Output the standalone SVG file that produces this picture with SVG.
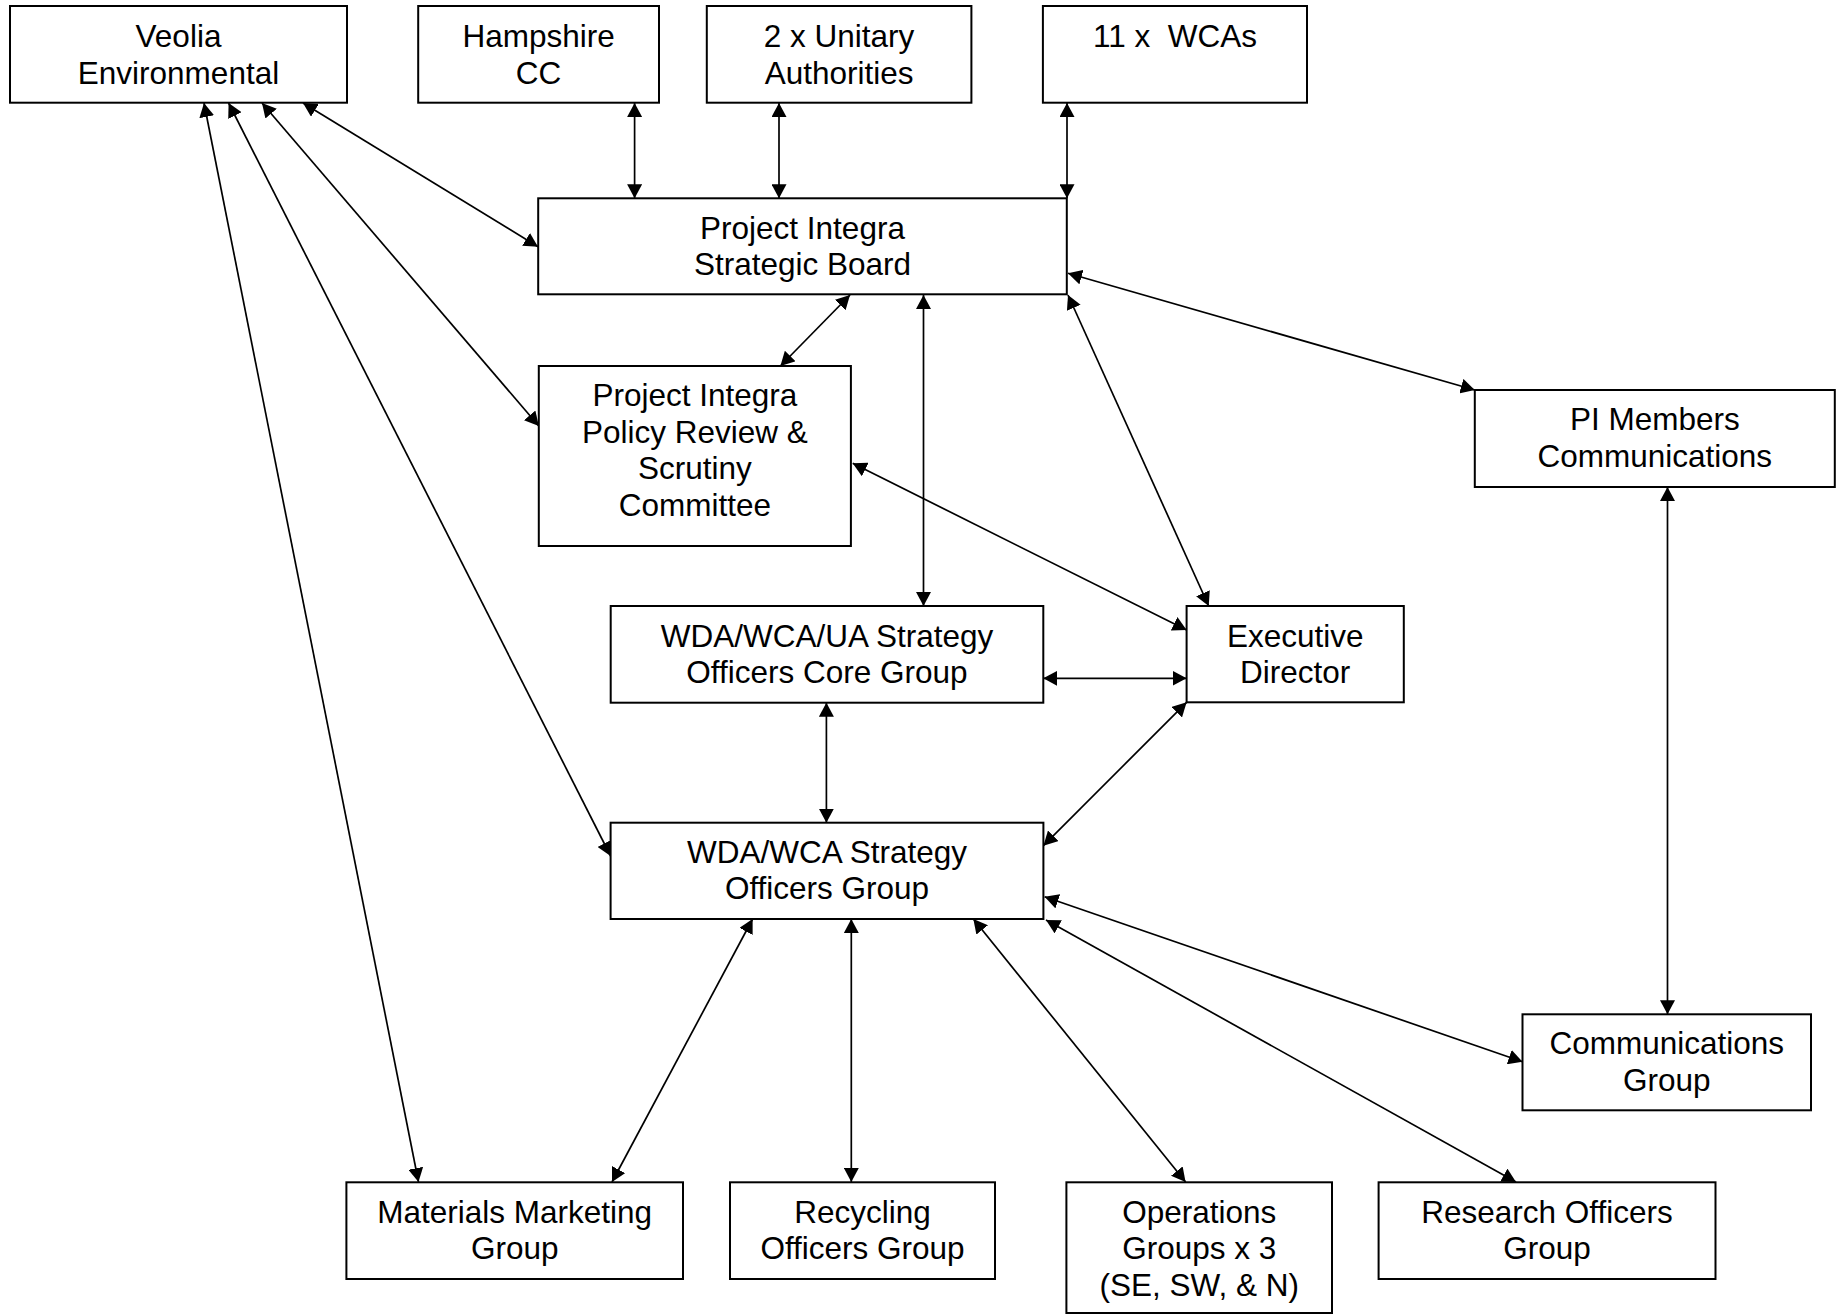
<svg xmlns="http://www.w3.org/2000/svg" width="1842" height="1314" viewBox="0 0 1842 1314">
<style>
.box{fill:#fff;stroke:#000;stroke-width:2}
.lbl{font-family:"Liberation Sans",Arial,sans-serif;font-size:31.5px;fill:#000;text-anchor:middle;white-space:pre}
.con line{stroke:#000;stroke-width:1.7;marker-start:url(#ah);marker-end:url(#ah)}
</style>
<defs>
<marker id="ah" viewBox="0 0 14 15" refX="14" refY="7.5" markerWidth="14" markerHeight="15" markerUnits="userSpaceOnUse" orient="auto-start-reverse">
<path d="M0,0 L14,7.5 L0,15 z" fill="#000"/>
</marker>
</defs>
<rect width="1842" height="1314" fill="#fff"/>
<g id="connectors" class="con">
<line x1="634.6" y1="103" x2="634.6" y2="198.3"/>
<line x1="779" y1="103" x2="779" y2="198.3"/>
<line x1="1067" y1="103" x2="1067" y2="198.3"/>
<line x1="303" y1="103" x2="538" y2="246.7"/>
<line x1="262" y1="103" x2="538.8" y2="426"/>
<line x1="228.6" y1="103" x2="610.6" y2="856"/>
<line x1="204" y1="103" x2="418.5" y2="1182"/>
<line x1="850" y1="295" x2="780.4" y2="366"/>
<line x1="923.5" y1="295" x2="923.5" y2="606"/>
<line x1="1068" y1="295" x2="1208.7" y2="606"/>
<line x1="1068" y1="273.3" x2="1474.8" y2="390"/>
<line x1="852.7" y1="463.3" x2="1186.6" y2="630"/>
<line x1="1043.3" y1="678.3" x2="1186.6" y2="678.3"/>
<line x1="826.4" y1="702.7" x2="826.4" y2="822.7"/>
<line x1="1186.6" y1="702.3" x2="1043.4" y2="845.7"/>
<line x1="1667.5" y1="487" x2="1667.5" y2="1014.3"/>
<line x1="1044.6" y1="896.7" x2="1522.5" y2="1061.7"/>
<line x1="1046" y1="920" x2="1516" y2="1182"/>
<line x1="973.4" y1="919" x2="1185.6" y2="1182"/>
<line x1="851.3" y1="919" x2="851.3" y2="1182"/>
<line x1="752.6" y1="919" x2="612" y2="1182"/>
</g>
<g id="veolia"><rect class="box" x="10" y="6" width="337" height="96.7"/><text class="lbl" x="178.5" y="47">Veolia</text><text class="lbl" x="178.5" y="83.5">Environmental</text></g>
<g id="hampshire"><rect class="box" x="418.2" y="6" width="240.8" height="96.7"/><text class="lbl" x="538.6" y="47">Hampshire</text><text class="lbl" x="538.6" y="83.5">CC</text></g>
<g id="unitary"><rect class="box" x="706.8" y="6" width="264.6" height="96.7"/><text class="lbl" x="839.1" y="47">2 x Unitary</text><text class="lbl" x="839.1" y="83.5">Authorities</text></g>
<g id="wcas"><rect class="box" x="1042.9" y="6" width="264.1" height="96.7"/><text class="lbl" x="1175" y="47">11 x  WCAs</text></g>
<g id="board"><rect class="box" x="538.2" y="198.3" width="528.6" height="96"/><text class="lbl" x="802.5" y="238.5">Project Integra</text><text class="lbl" x="802.5" y="275">Strategic Board</text></g>
<g id="policy"><rect class="box" x="538.8" y="366" width="312.1" height="180"/><text class="lbl" x="694.9" y="406">Project Integra</text><text class="lbl" x="694.9" y="442.7">Policy Review &amp;</text><text class="lbl" x="694.9" y="479.4">Scrutiny</text><text class="lbl" x="694.9" y="516">Committee</text></g>
<g id="pimembers"><rect class="box" x="1474.8" y="390" width="360" height="97"/><text class="lbl" x="1654.8" y="430">PI Members</text><text class="lbl" x="1654.8" y="466.7">Communications</text></g>
<g id="core"><rect class="box" x="610.7" y="606" width="432.6" height="96.7"/><text class="lbl" x="827" y="646.7">WDA/WCA/UA Strategy</text><text class="lbl" x="827" y="683.3">Officers Core Group</text></g>
<g id="exec"><rect class="box" x="1186.6" y="606" width="217.2" height="96.3"/><text class="lbl" x="1295.2" y="646.7">Executive</text><text class="lbl" x="1295.2" y="683.3">Director</text></g>
<g id="sog"><rect class="box" x="610.6" y="822.7" width="432.8" height="96.3"/><text class="lbl" x="827" y="862.7">WDA/WCA Strategy</text><text class="lbl" x="827" y="899.3">Officers Group</text></g>
<g id="commsgroup"><rect class="box" x="1522.5" y="1014.3" width="288.5" height="96"/><text class="lbl" x="1666.7" y="1054.3">Communications</text><text class="lbl" x="1666.7" y="1091">Group</text></g>
<g id="materials"><rect class="box" x="346.4" y="1182.3" width="336.6" height="96.7"/><text class="lbl" x="514.7" y="1222.7">Materials Marketing</text><text class="lbl" x="514.7" y="1259.3">Group</text></g>
<g id="recycling"><rect class="box" x="730" y="1182.3" width="265" height="96.7"/><text class="lbl" x="862.5" y="1222.7">Recycling</text><text class="lbl" x="862.5" y="1259.3">Officers Group</text></g>
<g id="operations"><rect class="box" x="1066.4" y="1182.3" width="265.6" height="130.7"/><text class="lbl" x="1199.2" y="1222.7">Operations</text><text class="lbl" x="1199.2" y="1259.3">Groups x 3</text><text class="lbl" x="1199.2" y="1296">(SE, SW, &amp; N)</text></g>
<g id="research"><rect class="box" x="1378.6" y="1182.3" width="336.9" height="96.7"/><text class="lbl" x="1547" y="1222.7">Research Officers</text><text class="lbl" x="1547" y="1259.3">Group</text></g>
</svg>
